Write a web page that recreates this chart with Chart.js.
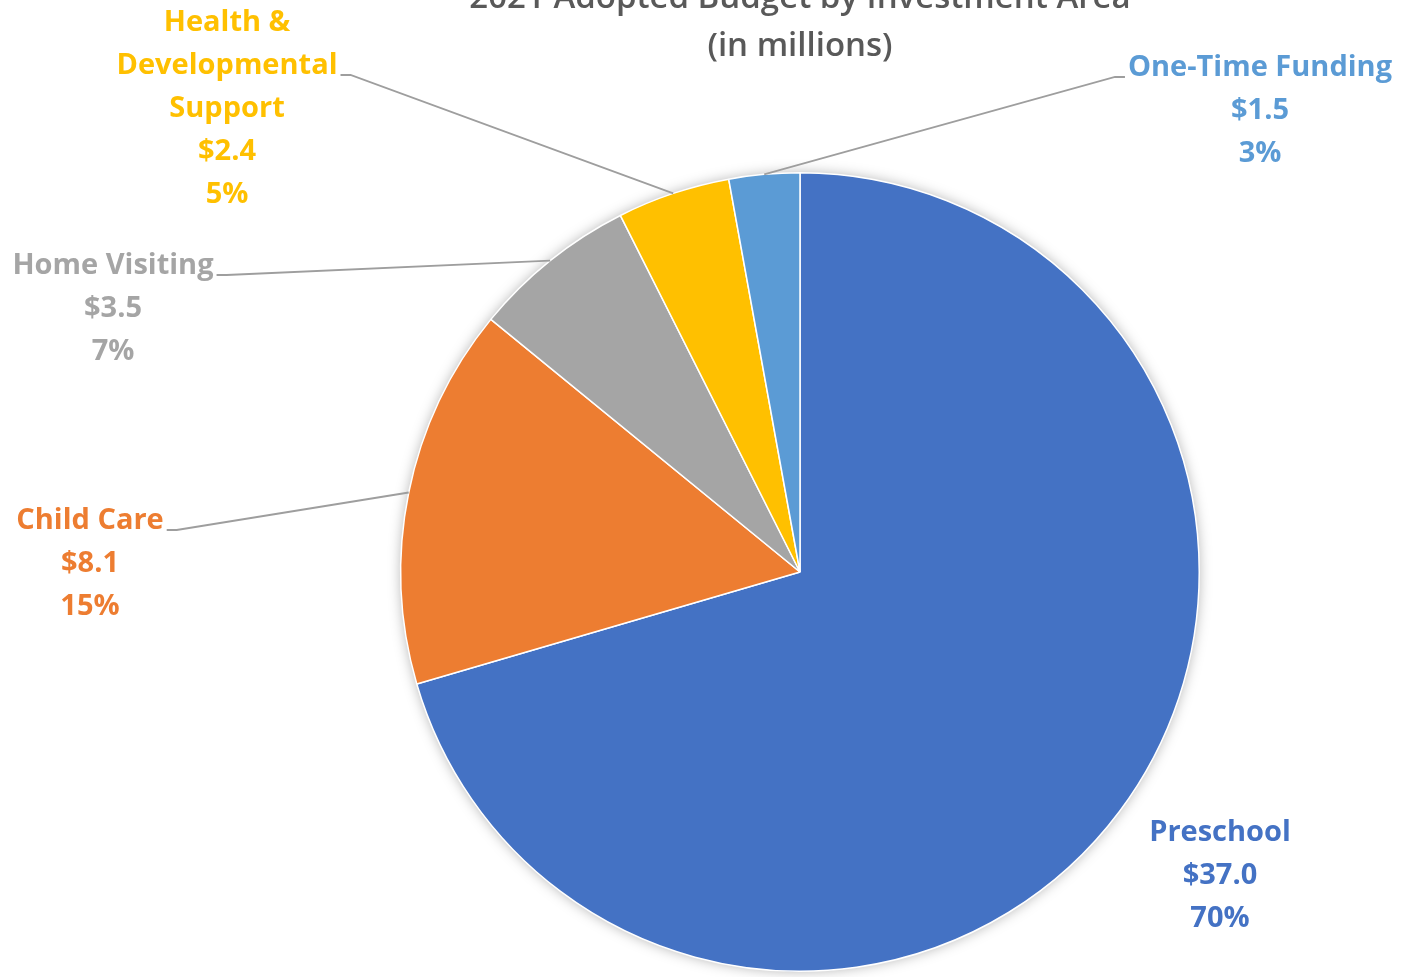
<!DOCTYPE html>
<html>
<head>
<meta charset="utf-8">
<script src="https://cdn.jsdelivr.net/npm/chart.js@4"></script>
<style>
  html, body { margin: 0; padding: 0; background: #ffffff; }
  #wrap { width: 1403px; height: 977px; position: relative; }
</style>
</head>
<body>
<div id="wrap"><canvas id="myChart" width="1403" height="977"></canvas></div>
<script>
// data
var categories = ['Preschool', 'Child Care', 'Home Visiting', 'Health & Developmental Support', 'One-Time Funding'];
var budgetValues = [37.0, 8.1, 3.5, 2.4, 1.5];
var percentLabels = ['70%', '15%', '7%', '5%', '3%'];
var sliceColors = ['#4472C4', '#ED7D31', '#A5A5A5', '#FFC000', '#5B9BD5'];
var titleLines = ['2021 Adopted Budget by Investment Area', '(in millions)'];

// where each label block sits (text lines split for wrapping) - layout only
var labelLines = [
    ['Preschool'],
    ['Child Care'],
    ['Home Visiting'],
    ['Health &', 'Developmental', 'Support'],
    ['One-Time Funding']
];
var labelPos = [
    { x: 1220, y: 833, leader: false },
    { x: 90, y: 521, leader: true, lineRow: 0 },
    { x: 113, y: 266, leader: true, lineRow: 0 },
    { x: 227, y: 23, leader: true, lineRow: 1 },
    { x: 1260, y: 68, leader: true, lineRow: 0, leftSide: true }
];

var FONT = '"Open Sans", "Noto Sans", sans-serif';
var LABEL_SIZE = 29;
var LINE_H = 43;

var labelsPlugin = {
    id: 'pieLabels',
    beforeDatasetsDraw: function (chart) {
        // soft shadow behind the pie
        var arc = chart.getDatasetMeta(0).data[0];
        var ctx = chart.ctx;
        ctx.save();
        ctx.shadowColor = 'rgba(0,0,0,0.35)';
        ctx.shadowBlur = 14;
        ctx.shadowOffsetX = 0;
        ctx.shadowOffsetY = 0;
        ctx.fillStyle = '#ffffff';
        ctx.beginPath();
        ctx.arc(arc.x, arc.y, arc.outerRadius - 1, 0, Math.PI * 2);
        ctx.fill();
        ctx.restore();
    },
    afterDatasetsDraw: function (chart) {
        var ctx = chart.ctx;
        var meta = chart.getDatasetMeta(0);
        var cx = chart.chartArea.left + (chart.chartArea.right - chart.chartArea.left) / 2;
        ctx.save();
        ctx.textAlign = 'center';
        ctx.textBaseline = 'middle';

        // title
        ctx.fillStyle = '#595959';
        ctx.font = '600 33px ' + FONT;
        ctx.fillText(titleLines[0], cx, -1);
        ctx.fillText(titleLines[1], cx, 47);

        ctx.font = '700 ' + LABEL_SIZE + 'px ' + FONT;
        for (var i = 0; i < categories.length; i++) {
            var lines = labelLines[i].concat(['$' + budgetValues[i].toFixed(1), percentLabels[i]]);
            var p = labelPos[i];
            ctx.fillStyle = sliceColors[i];
            for (var j = 0; j < lines.length; j++) {
                ctx.fillText(lines[j], p.x, p.y + j * LINE_H);
            }
            if (p.leader) {
                var el = meta.data[i];
                var mid = (el.startAngle + el.endAngle) / 2;
                var ex = el.x + Math.cos(mid) * el.outerRadius;
                var ey = el.y + Math.sin(mid) * el.outerRadius;
                var w = ctx.measureText(labelLines[i][p.lineRow]).width;
                var ly = p.y + p.lineRow * LINE_H + 9;
                var sx, kx;
                if (p.leftSide) {
                    sx = p.x - w / 2 - 3;
                    kx = sx - 10;
                } else {
                    sx = p.x + w / 2 + 3;
                    kx = sx + 10;
                }
                ctx.strokeStyle = '#9E9E9E';
                ctx.lineWidth = 1.8;
                ctx.beginPath();
                ctx.moveTo(sx, ly);
                ctx.lineTo(kx, ly);
                ctx.lineTo(ex, ey);
                ctx.stroke();
            }
        }
        ctx.restore();
    }
};

var ctx = document.getElementById('myChart').getContext('2d');
var myChart = new Chart(ctx, {
    type: 'pie',
    data: {
        labels: categories,
        datasets: [{
            data: budgetValues,
            backgroundColor: sliceColors,
            borderColor: '#ffffff',
            borderWidth: 1.5
        }]
    },
    options: {
        responsive: false,
        animation: false,
        layout: {
            padding: { top: 172, bottom: 5, left: 400, right: 203 }
        },
        plugins: {
            legend: { display: false },
            tooltip: { enabled: false },
            title: { display: false }
        }
    },
    plugins: [labelsPlugin]
});
</script>
</body>
</html>
